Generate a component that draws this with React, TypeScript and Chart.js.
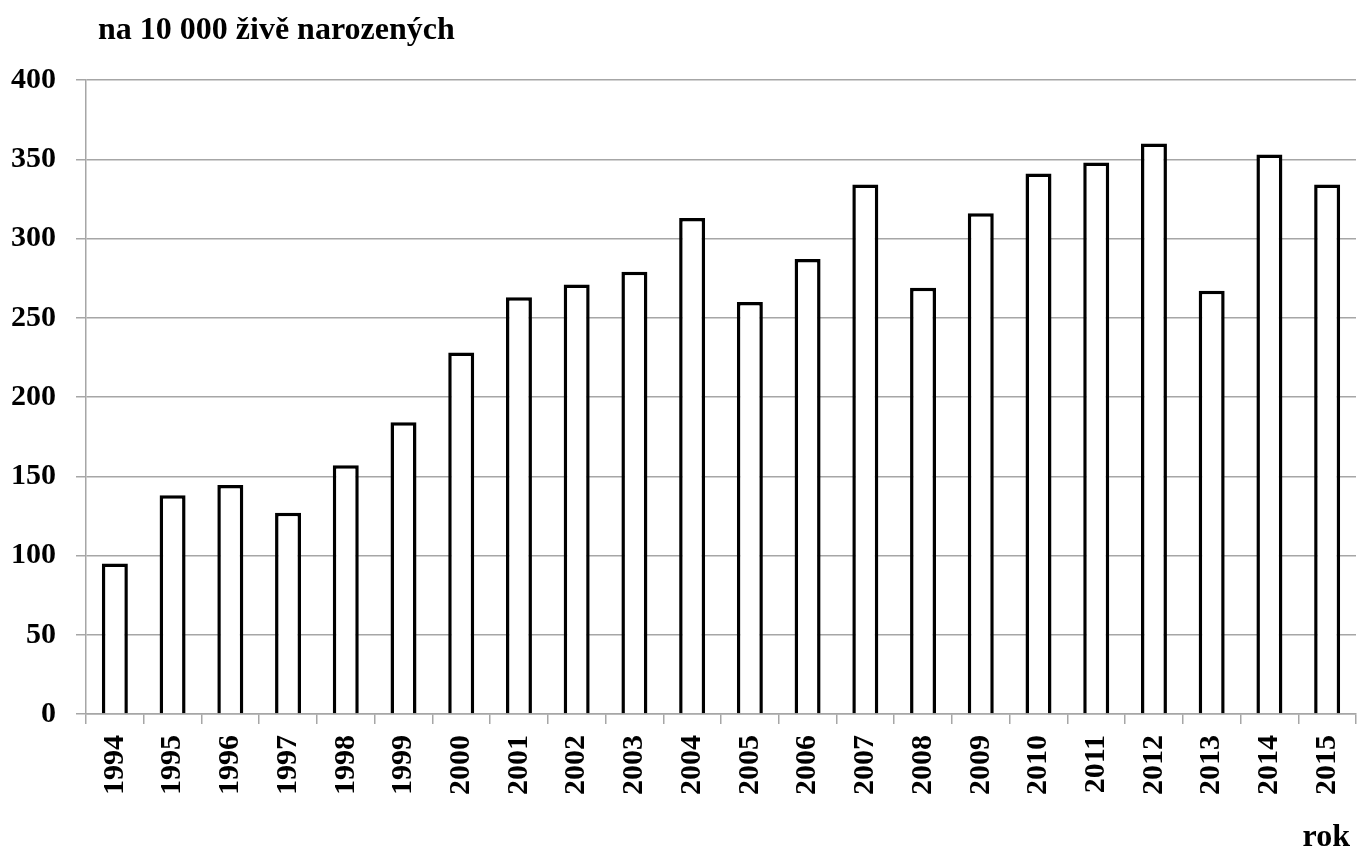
import React, { useEffect, useRef } from "react";
import { Chart, registerables } from "chart.js";

Chart.register(...registerables);

const years = [
  "1994", "1995", "1996", "1997", "1998", "1999", "2000", "2001", "2002", "2003", "2004",
  "2005", "2006", "2007", "2008", "2009", "2010", "2011", "2012", "2013", "2014", "2015",
];
const rates = [
  95, 138, 144.5, 127, 157, 184, 228, 263, 271, 279, 313,
  260, 287, 334, 269, 316, 341, 348, 360, 267, 353, 334,
];
const yTicks = [0, 50, 100, 150, 200, 250, 300, 350, 400];
const titleText = "na 10 000 živě narozených";
const xAxisText = "rok";

const FONT = '"Liberation Serif", "Times New Roman", serif';
const GRID = "#a6a6a6";

const textPlugin = {
  id: "cornerTexts",
  afterDraw(chart: any) {
    const { ctx, chartArea } = chart;
    ctx.save();
    ctx.fillStyle = "#000";
    ctx.font = `bold 32px ${FONT}`;
    ctx.textBaseline = "alphabetic";
    ctx.textAlign = "left";
    ctx.fillText(titleText, chartArea.left + 12, chartArea.top - 41);
    ctx.textAlign = "right";
    ctx.fillText(xAxisText, chartArea.right - 6, chart.height - 4);
    ctx.restore();
  },
};

export default function App() {
  const ref = useRef<HTMLCanvasElement | null>(null);
  useEffect(() => {
    if (!ref.current) return;
    const chart = new Chart(ref.current, {
      type: "bar",
      data: {
        labels: years,
        datasets: [
          {
            data: rates,
            backgroundColor: "#ffffff",
            borderColor: "#000000",
            borderWidth: 3.5,
            barPercentage: 0.45,
            categoryPercentage: 1,
          },
        ],
      },
      options: {
        responsive: false,
        animation: false,
        layout: { padding: { top: 80, left: 0, right: 5, bottom: 0 } },
        plugins: {
          legend: { display: false },
          tooltip: { enabled: false },
          title: { display: false },
        },
        scales: {
          x: {
            afterFit(axis: any) {
              axis.height = 136;
              axis.paddingLeft = 0;
              axis.paddingRight = 0;
            },
            grid: {
              offset: true,
              drawOnChartArea: false,
              drawTicks: true,
              tickLength: 10,
              color: GRID,
              lineWidth: 1.5,
            },
            border: { color: GRID, width: 1.5 },
            ticks: {
              color: "#000",
              font: { family: FONT, size: 30, weight: "bold" },
              maxRotation: 90,
              minRotation: 90,
              padding: 11,
              autoSkip: false,
            },
          },
          y: {
            min: 0,
            max: 400,
            afterFit(axis: any) {
              axis.width = 86;
            },
            afterBuildTicks(axis: any) {
              axis.ticks = yTicks.map((v) => ({ value: v }));
            },
            grid: {
              color: GRID,
              lineWidth: 1.5,
              tickLength: 10,
            },
            border: { color: GRID, width: 1.5 },
            ticks: {
              color: "#000",
              font: { family: FONT, size: 30, weight: "bold" },
              padding: 20,
            },
          },
        },
      },
      plugins: [textPlugin],
    });
    return () => chart.destroy();
  }, []);
  return (
    <div style={{ position: "fixed", left: 0, top: 0, width: 1361, height: 850, background: "#fff" }}>
      <canvas ref={ref} width={1361} height={850} style={{ width: 1361, height: 850 }} />
    </div>
  );
}
